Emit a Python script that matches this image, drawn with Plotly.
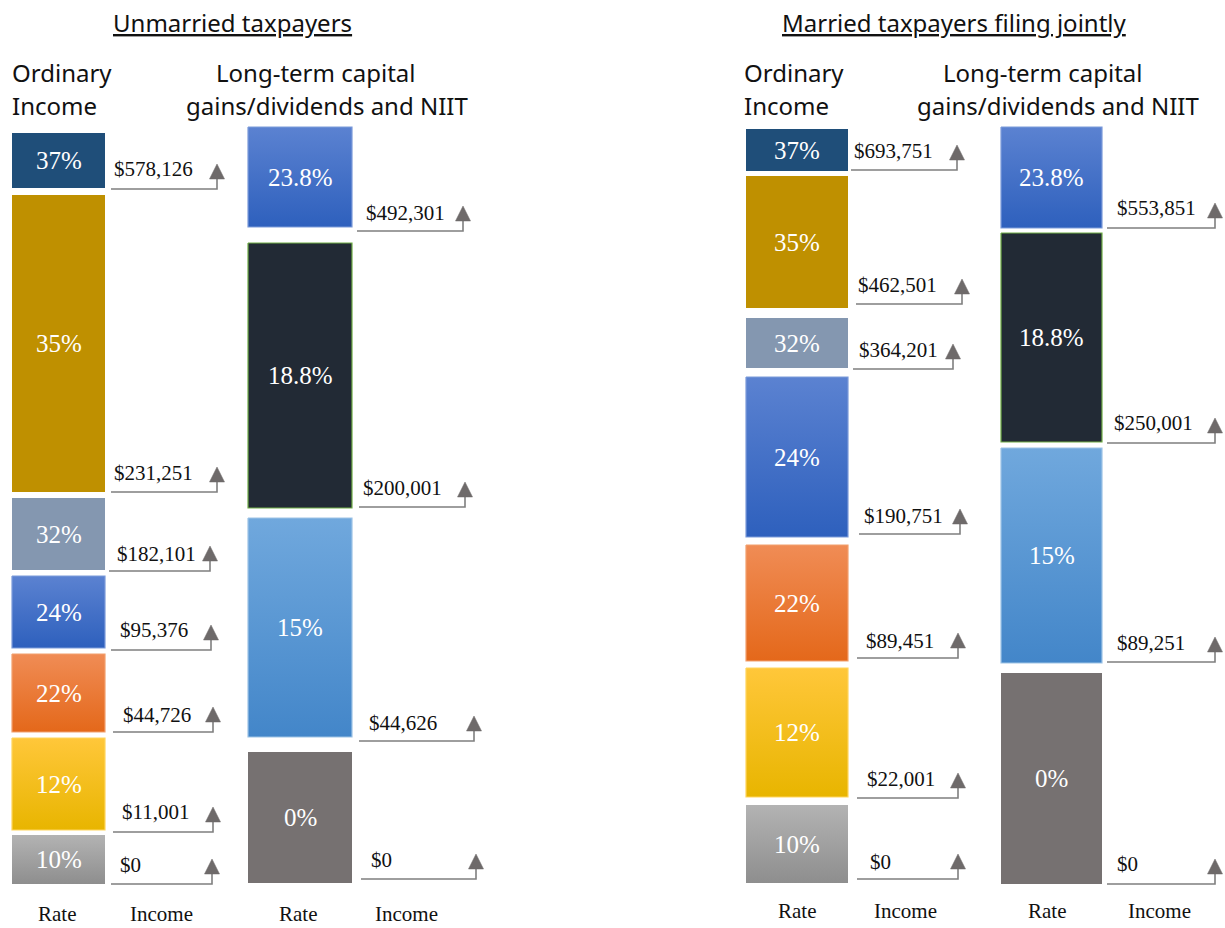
import plotly.graph_objects as go

# ---------------- data ----------------
panel_titles = ["Unmarried taxpayers", "Married taxpayers filing jointly"]
ord_rates = ["37%", "35%", "32%", "24%", "22%", "12%", "10%"]
ltcg_rates = ["23.8%", "18.8%", "15%", "0%"]
single_ord_thresholds = ["$578,126", "$231,251", "$182,101", "$95,376", "$44,726", "$11,001", "$0"]
single_ltcg_thresholds = ["$492,301", "$200,001", "$44,626", "$0"]
joint_ord_thresholds = ["$693,751", "$462,501", "$364,201", "$190,751", "$89,451", "$22,001", "$0"]
joint_ltcg_thresholds = ["$553,851", "$250,001", "$89,251", "$0"]
header_ord = ["Ordinary", "Income"]
header_ltcg = ["Long-term capital", "gains/dividends and NIIT"]
footer_labels = ["Rate", "Income"]

# ---------------- styles ----------------
# (top colour, bottom colour, border colour)
rate_style = {
    "37%": ("#1F4E79", "#1F4E79", None),
    "35%": ("#BF9000", "#BF9000", None),
    "32%": ("#8497B0", "#8497B0", None),
    "24%": ("#5B82D1", "#2E60BD", "#7C9BDA"),
    "22%": ("#F08C55", "#E4681A", "#F2A06E"),
    "12%": ("#FFC73A", "#E8B500", "#FFD55E"),
    "10%": ("#B3B3B3", "#8E8E8E", None),
    "23.8%": ("#5B82D1", "#2E60BD", "#7C9BDA"),
    "18.8%": ("#222A35", "#222A35", "#70AD47"),
    "15%": ("#70A8DD", "#4386C9", "#9DC3E6"),
    "0%": ("#767171", "#767171", None),
}
SANS = "Noto Sans"
SERIF = "Liberation Serif"

# ---------------- layout (pixel positions) ----------------
columns = [
    dict(rates=ord_rates, labels=single_ord_thresholds, bx=(12, 105),
         tops=[133, 195, 498, 576, 654, 738, 835], bottoms=[188, 492, 570, 648, 732, 830, 884],
         tx=[112, 112, 115, 118, 121, 120, 118], ty=[169, 472.5, 553.5, 630, 715, 811.5, 865],
         lx=[(111, 217), (111, 217), (109, 210), (111, 211), (113, 213), (113, 213), (111, 212)],
         ly=[189, 492, 571, 650, 732, 832, 884]),
    dict(rates=ltcg_rates, labels=single_ltcg_thresholds, bx=(248, 352),
         tops=[127, 243, 518, 752], bottoms=[227, 508, 737, 883],
         tx=[364, 361, 367, 369], ty=[212.5, 487.5, 722.5, 860],
         lx=[(357, 463), (359, 465), (359, 474), (361, 476)],
         ly=[231, 507, 741, 879]),
    dict(rates=ord_rates, labels=joint_ord_thresholds, bx=(746, 848),
         tops=[129, 176, 318, 377, 545, 668, 805], bottoms=[171, 308, 368, 537, 661, 797, 883],
         tx=[852, 856, 857, 862, 864, 865, 868], ty=[150.5, 284.5, 350, 515.5, 640.5, 778.5, 862],
         lx=[(851, 957), (856, 962), (853, 953), (859, 960), (857, 958), (857, 958), (857, 958)],
         ly=[170, 304, 369, 534, 658, 798, 879]),
    dict(rates=ltcg_rates, labels=joint_ltcg_thresholds, bx=(1001, 1102),
         tops=[127, 233, 448, 673], bottoms=[228, 442, 663, 884],
         tx=[1115, 1112, 1115, 1115], ty=[207.5, 422.5, 642.5, 863.5],
         lx=[(1107, 1215)] * 4,
         ly=[228, 443, 662, 884]),
]
panels = [
    dict(title_x=232, ord_x=10, ltcg_x=(315, 327), foot_x=(57, 161, 298, 406), foot_y=914),
    dict(title_x=954.5, ord_x=742, ltcg_x=(1042, 1058), foot_x=(797, 905, 1047, 1159), foot_y=911),
]
ARROW_RISE = 10
TRI_W = 15
TRI_H = 15

fig = go.Figure()
ann = []

for col in columns:
    x0, x1 = col["bx"]
    for rate, t, b in zip(col["rates"], col["tops"], col["bottoms"]):
        top_c, bot_c, border = rate_style[rate]
        kw = dict(x=[x0, x1, x1, x0, x0], y=[t, t, b, b, t], mode="lines", fill="toself",
                  hoverinfo="skip", showlegend=False,
                  line=dict(color=border if border else top_c, width=1.2 if border else 0))
        if top_c != bot_c:
            kw["fillgradient"] = dict(type="vertical", colorscale=[[0, top_c], [1, bot_c]],
                                      start=t, stop=b)
        else:
            kw["fillcolor"] = top_c
        fig.add_trace(go.Scatter(**kw))
        ann.append(dict(x=(x0 + x1) / 2, y=(t + b) / 2, text=rate, showarrow=False,
                        xanchor="center", yanchor="middle",
                        font=dict(family=SERIF, size=25, color="white")))
    for lab, tx, ty, (lx0, lx1), ly in zip(col["labels"], col["tx"], col["ty"], col["lx"], col["ly"]):
        fig.add_trace(go.Scatter(x=[lx0, lx1, lx1], y=[ly, ly, ly - ARROW_RISE], mode="lines",
                                 line=dict(color="#7F7F7F", width=1.6), hoverinfo="skip",
                                 showlegend=False))
        base = ly - ARROW_RISE
        fig.add_trace(go.Scatter(x=[lx1 - TRI_W / 2, lx1 + TRI_W / 2, lx1, lx1 - TRI_W / 2],
                                 y=[base, base, base - TRI_H, base], mode="lines", fill="toself",
                                 fillcolor="#6E6A6A", line=dict(color="#6E6A6A", width=0.5),
                                 hoverinfo="skip", showlegend=False))
        ann.append(dict(x=tx, y=ty, text=lab, showarrow=False, xanchor="left", yanchor="middle",
                        font=dict(family=SERIF, size=21, color="#111111")))

for title, p in zip(panel_titles, panels):
    ann.append(dict(x=p["title_x"], y=22, text="<u>" + title + "</u>", showarrow=False,
                    xanchor="center", yanchor="middle",
                    font=dict(family=SANS, size=24, color="#111111")))
    for line, yy, lx in zip(header_ord, [72, 105], [p["ord_x"]] * 2):
        ann.append(dict(x=lx, y=yy, text=line, showarrow=False, xanchor="left", yanchor="middle",
                        font=dict(family=SANS, size=24, color="#111111")))
    for line, yy, cx in zip(header_ltcg, [72, 105], p["ltcg_x"]):
        ann.append(dict(x=cx, y=yy, text=line, showarrow=False, xanchor="center", yanchor="middle",
                        font=dict(family=SANS, size=24, color="#111111")))
    for i, fx in enumerate(p["foot_x"]):
        ann.append(dict(x=fx, y=p["foot_y"], text=footer_labels[i % 2], showarrow=False,
                        xanchor="center", yanchor="middle", borderpad=0,
                        font=dict(family=SERIF, size=21, color="#111111")))

fig.update_layout(
    width=1225, height=928, autosize=False,
    margin=dict(l=0, r=0, t=0, b=0),
    paper_bgcolor="white", plot_bgcolor="white",
    xaxis=dict(range=[0, 1225], visible=False, fixedrange=True),
    yaxis=dict(range=[928, 0], visible=False, fixedrange=True),
    annotations=ann,
    showlegend=False,
)
fig.write_html("out.html", config=dict(displayModeBar=False, staticPlot=True),
               post_script="document.body.style.margin='0';")
